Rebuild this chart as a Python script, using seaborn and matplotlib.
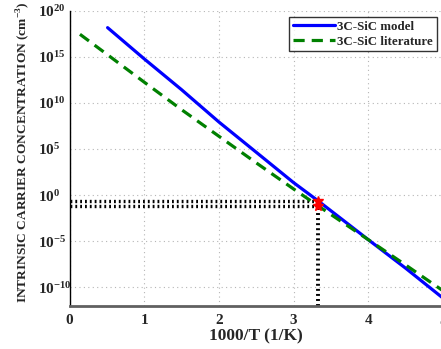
import numpy as np
import pandas as pd
import matplotlib
matplotlib.use("Agg")
import matplotlib.pyplot as plt
import seaborn as sns
from matplotlib.ticker import FixedLocator, FuncFormatter

# values (log10 of concentration)
x_model = [0.51, 1.0, 1.5, 2.0, 2.5, 3.0, 3.333, 4.0, 4.5, 5.0]
log_model = [18.19, 14.8, 11.45, 7.94, 4.65, 1.35, -0.66, -4.85, -7.95, -11.2]

x_lit = [0.14, 0.5, 1.0, 1.5, 2.0, 2.5, 3.0, 3.333, 4.0, 4.5, 5.0]
log_lit = [17.47, 15.3, 12.27, 9.28, 6.39, 3.5, 0.66, -1.2, -4.85, -7.6, -10.4]

x_room = 3.333          # 1000/300K
log_room = [-0.66, -1.2]  # model, literature at 300 K

sns.set_style("white")
plt.rcParams["font.family"] = ["Liberation Serif", "DejaVu Serif"]
plt.rcParams["mathtext.fontset"] = "custom"
plt.rcParams["mathtext.rm"] = "Liberation Serif"
plt.rcParams["mathtext.bf"] = "Liberation Serif:bold"

df_model = pd.DataFrame({"x": x_model, "n": 10.0 ** np.array(log_model)})
df_lit = pd.DataFrame({"x": x_lit, "n": 10.0 ** np.array(log_lit)})

fig = plt.figure(figsize=(4.41, 3.49), dpi=100)
ax = fig.add_axes([69.5 / 441, 43.5 / 349, 373.5 / 441, 294.5 / 349])

sns.lineplot(data=df_model, x="x", y="n", ax=ax, color="#0000ff", lw=2.3,
             label="3C-SiC model", sort=False)
sns.lineplot(data=df_lit, x="x", y="n", ax=ax, color="#008000", lw=2.3,
             label="3C-SiC literature", sort=False)
ax.lines[1].set_dashes((3.5, 2.2))

# dotted guide lines at room temperature
for lv in log_room:
    ax.plot([0, x_room], [10.0 ** lv] * 2, color="black", lw=2.4,
            dashes=(0.55, 0.9), zorder=1)
ax.plot([x_room, x_room], [1e-12, 10.0 ** log_room[1]], color="black", lw=2.8,
        dashes=(0.5, 0.8), zorder=1)
ax.plot([x_room] * 2, [10.0 ** v for v in log_room], ls="none", marker="*",
        color="red", ms=7, zorder=5)

ax.set_yscale("log")
ax.set_xlim(0, 5)
ax.set_ylim(1e-12, 1e20)
ax.yaxis.set_major_locator(FixedLocator([10.0 ** k for k in range(-10, 21, 5)]))
ax.yaxis.set_minor_locator(FixedLocator([]))
ax.yaxis.set_major_formatter(FuncFormatter(
    lambda v, p: r"$\mathbf{10^{%d}}$" % int(round(np.log10(v)))))
ax.set_xticks([0, 1, 2, 3, 4, 5])

ax.grid(True, color="#b5b5b5", ls=(0, (1, 3)), lw=0.8)
for s in ["top", "right"]:
    ax.spines[s].set_visible(False)
ax.spines["left"].set_color("black")
ax.spines["left"].set_linewidth(1.0)
ax.spines["bottom"].set_color("#606060")
ax.spines["bottom"].set_linewidth(2.0)

ax.tick_params(direction="in", length=3, width=0.8, labelsize=11)
ax.tick_params(axis="x", pad=6)
ax.tick_params(axis="y", pad=22.5)   # labels left-aligned, MATLAB style
for lab in ax.get_yticklabels():
    lab.set_horizontalalignment("left")
for lab in ax.get_xticklabels():
    lab.set_fontweight("bold")

ax.set_xlabel("1000/T (1/K)", fontsize=12.5, fontweight="bold", labelpad=1)
ax.set_ylabel(r"INTRINSIC CARRIER CONCENTRATION (cm$^{\mathbf{-3}}$)",
              fontsize=9.6, fontweight="bold")
ax.yaxis.set_label_coords(-0.1, 0.52)

leg = ax.legend(loc="upper right", bbox_to_anchor=(437 / 441, 1 - 17 / 349),
                bbox_transform=fig.transFigure, borderaxespad=0,
                frameon=True, fancybox=False, edgecolor="black",
                prop={"size": 9.3, "weight": "bold"}, handlelength=3.3,
                handletextpad=0.15, borderpad=0.3, labelspacing=0.2)
leg.get_frame().set_linewidth(1.0)
leg.get_lines()[1].set_dashes((3.5, 2.2))

fig.savefig("out.png", dpi=100)
